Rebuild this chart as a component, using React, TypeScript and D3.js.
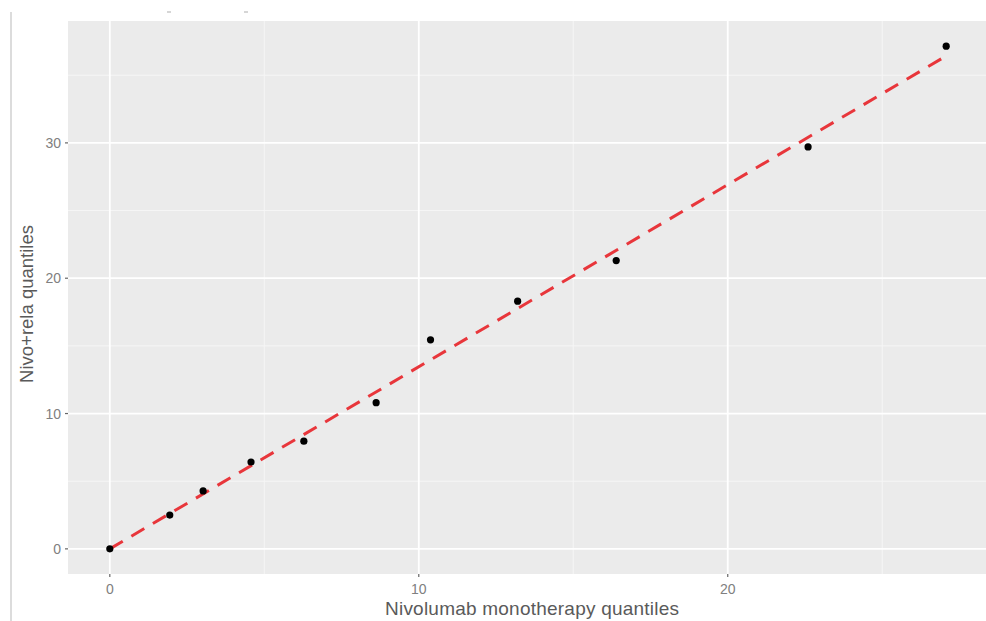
import React from "react";
import * as d3 from "d3";

// Quantiles of survival time: monotherapy (x) vs. combination (y)
const monoQuantiles = [0, 1.94, 3.02, 4.57, 6.28, 8.62, 10.38, 13.2, 16.39, 22.6, 27.07];
const comboQuantiles = [0, 2.5, 4.28, 6.42, 7.96, 10.8, 15.45, 18.3, 21.3, 29.7, 37.15];

// Reference line endpoints
const refLineX = [0, 26.94];
const refLineY = [0, 36.25];

const xTicks = [0, 10, 20];
const yTicks = [0, 10, 20, 30];
const xMinor = [5, 15, 25];
const yMinor = [5, 15, 25, 35];

const xTitle = "Nivolumab monotherapy quantiles";
const yTitle = "Nivo+rela quantiles";

const W = 986;
const H = 621;
const panel = { left: 68, top: 21, right: 988, bottom: 574 };

export default function App() {
  const xExt = d3.extent(monoQuantiles) as [number, number];
  const yExt = d3.extent(comboQuantiles) as [number, number];
  const xPad = (xExt[1] - xExt[0]) * 0.05;
  const yPad = (yExt[1] - yExt[0]) * 0.05;
  const x = d3
    .scaleLinear()
    .domain([xExt[0] - xPad, xExt[1] + xPad])
    .range([panel.left, panel.right]);
  const y = d3
    .scaleLinear()
    .domain([yExt[0] - yPad, yExt[1] + yPad])
    .range([panel.bottom, panel.top]);

  const line = d3
    .line<number>()
    .x((_, i) => x(refLineX[i]))
    .y((d) => y(d));

  const font = "'Liberation Sans', Arial, sans-serif";

  return (
    <svg
      width={W}
      height={H}
      style={{ position: "absolute", left: 0, top: 0, background: "#fff" }}
    >
      {/* outer frame edge */}
      <line x1={11} x2={11} y1={12} y2={H} stroke="#d0d0d0" strokeWidth={1.5} />
      <rect x={167} y={11} width={4} height={2} fill="#d6d6d6" />
      <rect x={244} y={11} width={4} height={2} fill="#d6d6d6" />

      {/* panel */}
      <rect
        x={panel.left}
        y={panel.top}
        width={panel.right - panel.left}
        height={panel.bottom - panel.top}
        fill="#ebebeb"
      />
      {xMinor.map((t) => (
        <line key={"xm" + t} x1={x(t)} x2={x(t)} y1={panel.top} y2={panel.bottom} stroke="#f6f6f6" strokeWidth={1} />
      ))}
      {yMinor.map((t) => (
        <line key={"ym" + t} x1={panel.left} x2={panel.right} y1={y(t)} y2={y(t)} stroke="#f6f6f6" strokeWidth={1} />
      ))}
      {xTicks.map((t) => (
        <line key={"xg" + t} x1={x(t)} x2={x(t)} y1={panel.top} y2={panel.bottom} stroke="#fff" strokeWidth={1.8} />
      ))}
      {yTicks.map((t) => (
        <line key={"yg" + t} x1={panel.left} x2={panel.right} y1={y(t)} y2={y(t)} stroke="#fff" strokeWidth={1.8} />
      ))}

      {/* reference line */}
      <path
        d={line(refLineY) ?? ""}
        fill="none"
        stroke="#e8363b"
        strokeWidth={3}
        strokeDasharray="15 10"
      />

      {/* points */}
      {monoQuantiles.map((v, i) => (
        <circle key={i} cx={x(v)} cy={y(comboQuantiles[i])} r={3.6} fill="#000" />
      ))}

      {/* axes ticks and labels */}
      {xTicks.map((t) => (
        <g key={"xt" + t}>
          <line x1={x(t)} x2={x(t)} y1={panel.bottom} y2={panel.bottom + 3} stroke="#666" strokeWidth={1.2} />
          <text x={x(t)} y={panel.bottom + 20} textAnchor="middle" fontFamily={font} fontSize={14} fill="#808080">
            {t}
          </text>
        </g>
      ))}
      {yTicks.map((t) => (
        <g key={"yt" + t}>
          <line x1={panel.left - 3} x2={panel.left} y1={y(t)} y2={y(t)} stroke="#666" strokeWidth={1.2} />
          <text x={panel.left - 7} y={y(t) + 5} textAnchor="end" fontFamily={font} fontSize={14} fill="#808080">
            {t}
          </text>
        </g>
      ))}

      <text
        x={532}
        y={615}
        textAnchor="middle"
        fontFamily={font}
        fontSize={19}
        fill="#5a5a5a"
        textLength={294}
        lengthAdjust="spacing"
      >
        {xTitle}
      </text>
      <text
        transform={`translate(33, 304) rotate(-90)`}
        textAnchor="middle"
        fontFamily={font}
        fontSize={18.5}
        fill="#5a5a5a"
      >
        {yTitle}
      </text>
    </svg>
  );
}
